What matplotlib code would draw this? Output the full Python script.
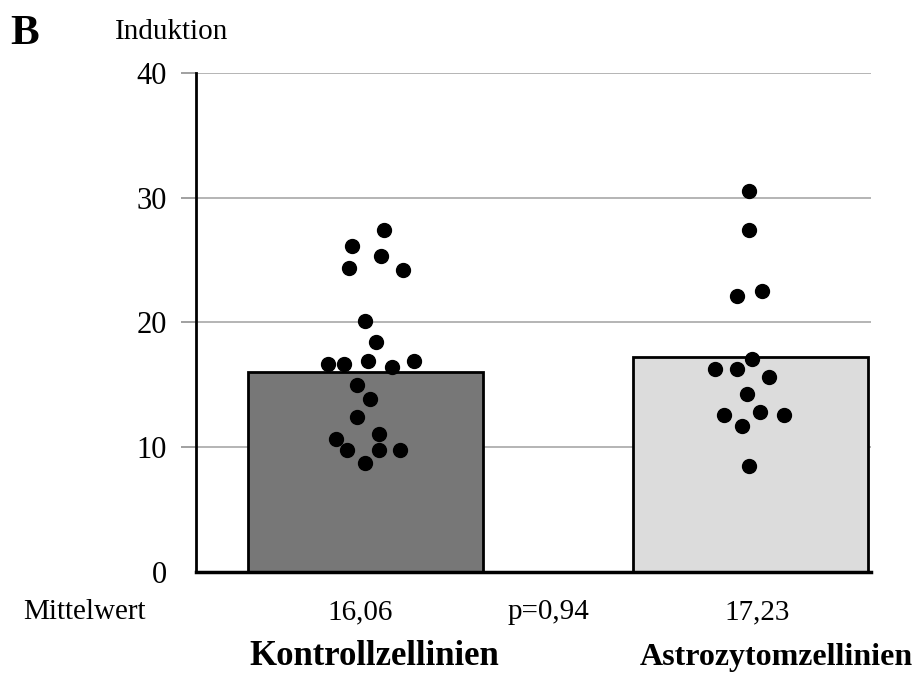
import numpy as np
import matplotlib.pyplot as plt

plt.rcParams['font.family'] = ['Liberation Serif', 'DejaVu Serif']

groups = ["Kontrollzellinien", "Astrozytomzellinien"]
means = [16.06, 17.23]
mean_labels = ["16,06", "17,23"]
p_label = "p=0,94"
bar_colors = ["#777777", "#dcdcdc"]

# single measurements per cell line
kontroll = [27.4, 26.1, 25.3, 24.4, 24.2, 20.1, 18.4, 16.7, 16.7, 16.9, 16.45,
            16.9, 15.0, 13.9, 12.4, 10.7, 11.1, 9.8, 9.8, 9.8, 8.7]
kontroll_dx = [0.048, -0.036, 0.041, -0.042, 0.097, -0.001, 0.028, -0.098, -0.056,
               0.006, 0.068, 0.125, -0.022, 0.013, -0.022, -0.077, 0.034, -0.049,
               0.034, 0.09, -0.001]
astro = [30.5, 27.4, 22.1, 22.5, 17.1, 16.3, 16.3, 15.6, 14.3, 12.6, 12.8, 12.6,
         11.7, 8.5]
astro_dx = [-0.003, -0.003, -0.036, 0.031, 0.005, -0.091, -0.036, 0.047, -0.01,
            -0.07, 0.026, 0.088, -0.021, -0.003]

yticks = [0, 10, 20, 30, 40]

fig = plt.figure(figsize=(9.18, 6.75), dpi=100)
ax = fig.add_axes([0.2135, 0.1526, 0.7353, 0.7393])

x = np.arange(len(groups))
ax.bar(x, means, width=0.61, color=bar_colors, edgecolor="black", linewidth=2, zorder=2)

ax.plot(x[0] + np.array(kontroll_dx), kontroll, "o", color="black", ms=10, zorder=3)
ax.plot(x[1] + np.array(astro_dx), astro, "o", color="black", ms=10, zorder=3)

ax.set_xlim(-0.44, 1.313)
ax.set_ylim(0, 40)
ax.set_yticks(yticks)
ax.set_xticks([])
ax.yaxis.grid(True, color="#a8a8a8", linewidth=1.2, zorder=0)
ax.set_axisbelow(True)
ax.tick_params(axis="y", direction="out", length=11, width=1.2, color="#909090",
               labelsize=22, pad=10)
ax.yaxis.get_major_ticks()[0].tick1line.set_visible(False)

for s in ["top", "right"]:
    ax.spines[s].set_visible(False)
ax.spines["left"].set_linewidth(2)
ax.spines["bottom"].set_linewidth(2.5)

fig.text(0.011, 0.935, "B", fontsize=31, fontweight="bold")
fig.text(0.125, 0.942, "Induktion", fontsize=21)

# row of means below the axis
row_y = 0.083
fig.text(0.025, row_y, "Mittelwert", fontsize=21, va="baseline")
fig.text(0.392, row_y, mean_labels[0], fontsize=21, ha="center", va="baseline")
fig.text(0.598, row_y, p_label, fontsize=21, ha="center", va="baseline")
fig.text(0.825, row_y, mean_labels[1], fontsize=21, ha="center", va="baseline")

fig.text(0.408, 0.0148, groups[0], fontsize=25, fontweight="bold", ha="center",
         va="baseline")
fig.text(0.994, 0.0148, groups[1], fontsize=23, fontweight="bold", ha="right",
         va="baseline")

fig.savefig("out.png", dpi=100)
